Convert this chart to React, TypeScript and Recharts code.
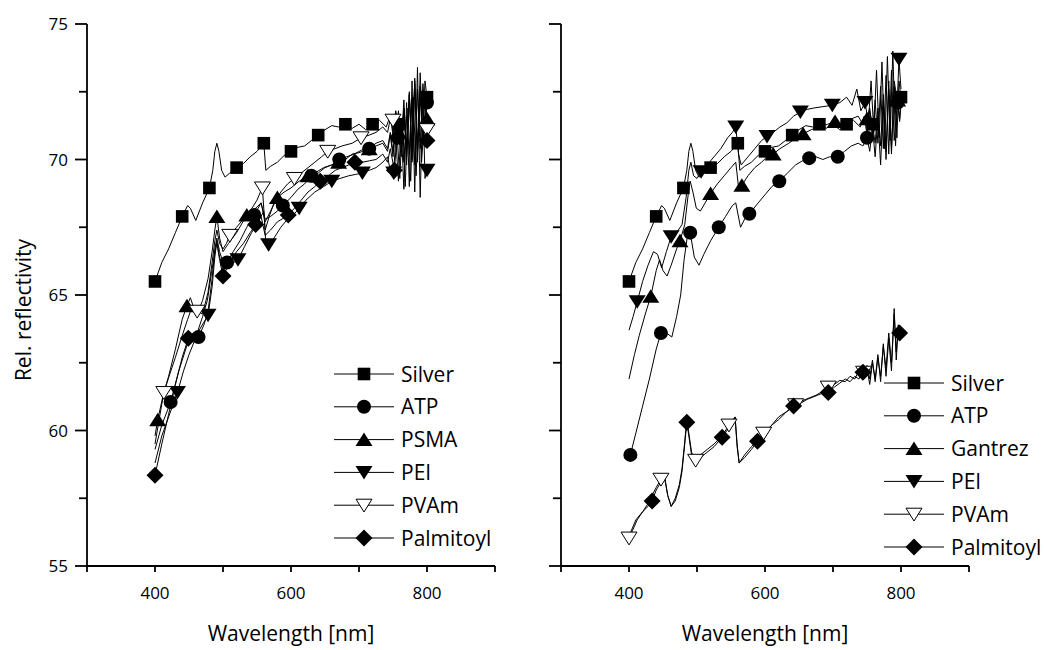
import React from 'react';
import { ComposedChart, Line, Scatter, XAxis, YAxis, Legend, Label } from 'recharts';

type Pt = [number, number];
type Kind = 'square' | 'circle' | 'up' | 'down' | 'downOpen' | 'diamond';

// axes
const xTicks = [300, 400, 500, 600, 700, 800, 900];
const xLabels = [400, 600, 800];
const yTicks = [55, 57.5, 60, 62.5, 65, 67.5, 70, 72.5, 75];
const yLabels = [55, 60, 65, 70, 75];

// Silver reference, same curve in both panels
const silver: Pt[] = [[400,65.5],[410,66.2],[420,66.7],[430,67.3],[440,67.9],[448,68.3],[452,68.2],[460,67.75],[470,68.4],[480,68.95],[485,69.6],[488,70.3],[491,70.6],[494,70.3],[498,69.6],[503,69.35],[510,69.5],[520,69.7],[530,69.85],[540,70.1],[550,70.3],[560,70.6],[563,69.6],[570,69.75],[580,69.9],[590,70.15],[600,70.3],[610,70.45],[620,70.5],[630,70.7],[640,70.9],[650,71.1],[660,71.25],[670,71.2],[680,71.3],[690,71.15],[700,71.3],[710,71.1],[720,71.3],[730,71.45],[740,71.2],[746,71.6],[750,70.9],[754,71.8],[758,71.3],[762,70.6],[766,71.9],[770,70.5],[774,72.4],[778,70.3],[782,72.9],[786,70.2],[790,72.7],[794,70.8],[797,72.9],[800,72.3]];
const silverMarks = [400, 440, 480, 520, 560, 600, 640, 680, 720, 758, 800];

// left panel
const atpL: Pt[] = [[400,59.3],[410,60.2],[423,61.05],[435,62.2],[449,63.3],[456,63.6],[464,63.45],[472,63.9],[478,64.4],[484,65.6],[488,66.7],[491,67.1],[495,66.6],[500,66.2],[506,66.2],[515,66.6],[525,67.0],[535,67.5],[546,67.95],[556,68.4],[562,67.8],[570,67.9],[580,68.1],[588,68.3],[600,68.6],[610,68.9],[620,69.1],[630,69.4],[640,69.5],[650,69.7],[660,69.8],[671,70.0],[682,70.1],[693,70.2],[704,70.35],[715,70.4],[725,70.5],[735,70.6],[742,70.3],[746,70.9],[750,70.1],[754,71.2],[757,70.8],[762,71.4],[766,69.9],[770,71.6],[774,70.2],[778,72.2],[782,69.8],[786,72.6],[790,70.4],[794,72.8],[798,71.5],[800,72.1]];
const atpLMarks = [423, 464, 506, 546, 588, 630, 671, 715, 757, 800];

const psmaL: Pt[] = [[400,59.8],[404,60.4],[412,61.3],[420,62.0],[430,63.0],[440,64.1],[447,64.6],[452,64.9],[456,64.6],[462,64.3],[470,64.8],[478,65.6],[484,66.6],[488,67.4],[491,67.9],[495,67.1],[500,66.6],[508,66.9],[520,67.3],[535,67.95],[548,68.2],[556,68.4],[562,67.7],[570,68.1],[580,68.6],[590,68.8],[600,68.95],[612,69.2],[625,69.4],[635,69.5],[648,69.7],[660,69.8],[670,69.9],[680,70.0],[690,70.2],[700,70.25],[715,70.4],[725,70.6],[735,70.7],[742,70.4],[746,71.0],[750,70.3],[754,71.3],[758,71.0],[762,70.1],[766,71.9],[770,69.8],[774,72.4],[778,70.0],[782,73.0],[786,69.9],[790,73.2],[794,70.6],[798,72.0],[800,71.5]];
const psmaLMarks = [404, 447, 491, 535, 580, 625, 670, 715, 758, 800];

const peiL: Pt[] = [[400,58.8],[410,59.8],[420,60.5],[433,61.4],[442,62.2],[450,62.8],[458,63.3],[465,63.7],[472,64.0],[478,64.25],[484,65.3],[488,66.4],[491,67.0],[495,66.4],[500,66.0],[510,66.1],[522,66.3],[532,66.8],[542,67.3],[552,67.7],[560,68.1],[563,66.9],[567,66.85],[575,67.1],[585,67.5],[595,67.8],[605,68.0],[612,68.2],[622,68.5],[635,68.8],[648,69.0],[660,69.2],[672,69.3],[685,69.4],[695,69.45],[705,69.5],[715,69.6],[725,69.7],[735,69.9],[742,70.1],[746,69.6],[751,69.5],[754,70.8],[758,69.2],[762,71.3],[766,68.9],[770,72.1],[774,69.0],[778,72.9],[782,68.8],[786,73.4],[790,68.6],[794,72.5],[797,69.3],[800,69.6]];
const peiLMarks = [433, 478, 522, 567, 612, 660, 705, 751, 800];

const pvamL: Pt[] = [[400,59.5],[406,60.4],[413,61.4],[422,62.1],[430,62.7],[440,63.5],[448,64.1],[455,64.6],[462,64.4],[470,64.3],[478,65.1],[484,66.2],[488,67.0],[491,67.4],[495,66.9],[500,66.7],[505,66.9],[510,67.2],[520,67.5],[530,67.8],[540,68.1],[550,68.5],[555,68.8],[558,68.95],[562,67.4],[568,67.9],[575,68.4],[585,68.8],[595,69.1],[605,69.3],[615,69.5],[625,69.7],[635,69.9],[645,70.1],[654,70.3],[665,70.4],[675,70.5],[690,70.6],[703,70.8],[715,70.9],[725,71.0],[735,71.2],[742,71.0],[746,71.5],[750,71.45],[754,70.9],[758,71.8],[762,70.4],[766,72.2],[770,70.1],[774,72.5],[778,69.9],[782,72.8],[786,70.3],[790,72.3],[794,70.6],[798,71.6],[800,71.1]];
const pvamLMarks = [413, 462, 510, 558, 605, 654, 703, 750, 800];

const palmL: Pt[] = [[400,58.35],[410,59.5],[420,60.6],[430,61.7],[440,62.7],[449,63.4],[456,63.5],[462,63.6],[470,64.2],[477,64.8],[483,65.8],[488,66.6],[491,66.9],[495,66.3],[500,65.7],[510,66.2],[520,66.6],[530,66.9],[540,67.3],[548,67.6],[556,67.9],[562,67.2],[570,67.4],[580,67.7],[590,67.85],[596,67.95],[605,68.2],[615,68.5],[625,68.8],[635,69.0],[643,69.2],[655,69.4],[665,69.6],[675,69.7],[685,69.8],[694,69.9],[705,69.9],[715,69.95],[725,70.0],[735,70.2],[742,69.9],[746,70.4],[752,69.6],[756,70.9],[760,69.3],[764,71.5],[768,69.0],[772,71.9],[776,69.2],[780,72.3],[784,69.4],[788,72.0],[792,69.9],[796,71.4],[800,70.7]];
const palmLMarks = [400, 449, 500, 548, 596, 643, 694, 752, 800];

// right panel
const atpR: Pt[] = [[402,59.1],[410,59.9],[420,60.9],[430,61.9],[440,63.0],[447,63.6],[455,63.6],[463,63.45],[470,64.2],[476,65.0],[481,66.3],[486,67.2],[490,67.3],[496,66.4],[503,66.1],[510,66.5],[520,67.0],[532,67.5],[542,67.9],[552,68.3],[557,68.4],[564,67.5],[570,67.8],[577,68.0],[590,68.4],[600,68.7],[610,69.0],[621,69.2],[633,69.5],[645,69.8],[655,69.95],[665,70.05],[675,70.1],[685,70.0],[695,70.1],[707,70.1],[717,70.3],[727,70.5],[737,70.6],[744,70.5],[750,70.8],[754,70.3],[758,71.2],[762,70.1],[766,71.6],[770,69.8],[774,72.2],[778,70.0],[782,72.6],[786,70.4],[790,72.9],[795,72.1],[798,71.4],[800,72.0]];
const atpRMarks = [402, 447, 490, 532, 577, 621, 665, 707, 750, 795];

const gantrezR: Pt[] = [[400,61.9],[408,62.8],[415,63.5],[424,64.3],[432,64.95],[440,65.9],[445,66.3],[450,65.9],[456,65.7],[462,66.1],[470,66.7],[475,67.0],[482,67.6],[487,68.7],[490,69.2],[494,68.8],[499,68.2],[505,68.1],[512,68.4],[520,68.75],[530,69.1],[540,69.4],[550,69.7],[557,69.9],[561,69.0],[566,69.05],[575,69.4],[585,69.7],[595,69.9],[603,70.1],[612,70.2],[622,70.4],[635,70.6],[646,70.8],[656,70.95],[668,71.1],[680,71.2],[692,71.3],[703,71.4],[715,71.3],[727,71.5],[737,71.6],[744,71.3],[750,71.5],[754,71.9],[758,70.9],[762,72.2],[766,70.6],[770,72.7],[774,70.4],[778,73.1],[782,70.2],[786,73.3],[790,70.7],[795,72.2],[798,71.5],[800,72.4]];
const gantrezRMarks = [432, 475, 520, 566, 612, 656, 703, 750, 795];

const peiR: Pt[] = [[400,63.7],[406,64.2],[412,64.75],[420,65.5],[428,66.1],[436,66.6],[442,66.5],[448,66.0],[455,66.6],[462,67.15],[470,67.3],[478,67.6],[484,68.6],[488,69.6],[491,69.9],[495,69.4],[500,69.3],[506,69.55],[515,69.8],[525,70.1],[535,70.4],[545,70.8],[552,71.0],[557,71.2],[561,70.2],[565,69.8],[575,70.1],[585,70.4],[595,70.7],[603,70.85],[612,71.0],[622,71.2],[632,71.35],[642,71.6],[652,71.75],[662,71.85],[672,71.9],[685,71.95],[699,72.0],[710,72.1],[720,72.3],[728,72.0],[735,72.6],[741,71.8],[747,72.1],[752,71.4],[756,72.9],[760,71.0],[764,73.3],[768,70.8],[772,73.6],[776,70.4],[780,73.8],[784,70.7],[788,74.0],[792,70.5],[797,73.7],[800,72.6]];
const peiRMarks = [412, 462, 506, 557, 603, 652, 699, 747, 797];

const pvamR: Pt[] = [[400,56.03],[405,56.3],[412,56.7],[420,57.0],[428,57.3],[434,57.6],[440,57.9],[447,58.2],[452,58.35],[457,57.6],[462,57.2],[468,57.5],[474,58.0],[478,58.6],[482,59.6],[485,60.4],[488,59.9],[492,59.2],[498,58.9],[505,59.1],[515,59.3],[525,59.5],[537,59.8],[547,60.2],[553,60.4],[556,60.5],[559,59.5],[562,58.8],[570,59.1],[580,59.4],[590,59.7],[598,59.9],[610,60.2],[620,60.5],[632,60.7],[645,60.95],[655,61.1],[665,61.2],[675,61.3],[685,61.45],[693,61.6],[702,61.7],[710,61.85],[718,61.8],[725,62.0],[732,61.9],[738,62.2],[745,62.15],[750,62.4],[754,61.9],[758,62.6],[762,61.8],[766,62.7],[770,62.0],[774,63.1],[778,62.3],[782,63.6],[786,62.5],[790,64.3],[793,62.9],[796,63.9],[800,63.4]];
const pvamRMarks = [400, 447, 498, 547, 598, 645, 693, 745];

const palmR: Pt[] = [[400,56.1],[410,56.7],[420,57.0],[428,57.2],[434,57.4],[440,57.8],[447,58.1],[452,58.3],[457,57.6],[462,57.2],[468,57.4],[474,57.9],[478,58.5],[482,59.5],[485,60.3],[488,59.8],[492,59.1],[498,58.9],[505,59.0],[515,59.2],[525,59.4],[537,59.75],[547,60.1],[553,60.35],[556,60.5],[559,59.4],[562,58.8],[570,59.0],[580,59.3],[589,59.6],[600,59.9],[610,60.2],[620,60.4],[632,60.7],[642,60.9],[652,61.0],[662,61.15],[672,61.25],[682,61.35],[693,61.4],[702,61.6],[710,61.75],[718,61.9],[725,61.8],[732,62.0],[738,61.9],[744,62.15],[750,62.3],[754,61.7],[758,62.5],[762,61.9],[766,62.8],[770,61.8],[774,63.2],[778,62.0],[782,63.4],[786,62.2],[790,64.5],[793,62.6],[796,63.8],[798,63.6],[800,63.5]];
const palmRMarks = [434, 485, 537, 589, 642, 693, 744, 798];

type Series = { name: string; kind: Kind; pts: Pt[]; marks: number[] };

const leftSeries: Series[] = [
  { name: 'Silver', kind: 'square', pts: silver, marks: silverMarks },
  { name: 'ATP', kind: 'circle', pts: atpL, marks: atpLMarks },
  { name: 'PSMA', kind: 'up', pts: psmaL, marks: psmaLMarks },
  { name: 'PEI', kind: 'down', pts: peiL, marks: peiLMarks },
  { name: 'PVAm', kind: 'downOpen', pts: pvamL, marks: pvamLMarks },
  { name: 'Palmitoyl', kind: 'diamond', pts: palmL, marks: palmLMarks },
];

const rightSeries: Series[] = [
  { name: 'Silver', kind: 'square', pts: silver, marks: silverMarks },
  { name: 'ATP', kind: 'circle', pts: atpR, marks: atpRMarks },
  { name: 'Gantrez', kind: 'up', pts: gantrezR, marks: gantrezRMarks },
  { name: 'PEI', kind: 'down', pts: peiR, marks: peiRMarks },
  { name: 'PVAm', kind: 'downOpen', pts: pvamR, marks: pvamRMarks },
  { name: 'Palmitoyl', kind: 'diamond', pts: palmR, marks: palmRMarks },
];

const FONT = '"Open Sans", "DejaVu Sans", sans-serif';
const INK = '#000';

const toRows = (pts: Pt[]) => pts.map(([x, y]) => ({ x, y }));
const markRows = (s: Series) => toRows(s.pts.filter(([x]) => s.marks.includes(x)));

function Marker({ kind, cx, cy }: { kind: Kind; cx: number; cy: number }) {
  if (cx == null || cy == null) return null;
  switch (kind) {
    case 'square':
      return <rect x={cx - 6.3} y={cy - 6.3} width={12.6} height={12.6} fill={INK} />;
    case 'circle':
      return <circle cx={cx} cy={cy} r={7} fill={INK} />;
    case 'up':
      return <polygon points={`${cx - 8.5},${cy + 6.5} ${cx + 8.5},${cy + 6.5} ${cx},${cy - 7}`} fill={INK} />;
    case 'down':
      return <polygon points={`${cx - 8.5},${cy - 6.5} ${cx + 8.5},${cy - 6.5} ${cx},${cy + 7}`} fill={INK} />;
    case 'downOpen':
      return <polygon points={`${cx - 8},${cy - 6} ${cx + 8},${cy - 6} ${cx},${cy + 6.8}`} fill="#fff" stroke={INK} strokeWidth={1} />;
    default:
      return <polygon points={`${cx},${cy - 8.5} ${cx + 8.5},${cy} ${cx},${cy + 8.5} ${cx - 8.5},${cy}`} fill={INK} />;
  }
}

const makeYTick = (axisX: number, showLabels: boolean) => (props: any) => {
  const { y, payload } = props;
  const v = payload.value;
  const major = yLabels.includes(v);
  return (
    <g>
      <line x1={axisX - (major ? 12 : 8)} x2={axisX} y1={y} y2={y} stroke={INK} strokeWidth={1.8} />
      {major && showLabels && (
        <text x={axisX - 19} y={y} dy="0.36em" textAnchor="end" fontSize={17} fontFamily={FONT} fill={INK}>
          {v}
        </text>
      )}
    </g>
  );
};

const makeXTick = (axisY: number) => (props: any) => {
  const { x, payload } = props;
  const v = payload.value;
  return (
    <g>
      <line x1={x} x2={x} y1={axisY} y2={axisY + 6} stroke={INK} strokeWidth={1.8} />
      {xLabels.includes(v) && (
        <text x={x} y={axisY + 27} dy="0.36em" textAnchor="middle" fontSize={17} fontFamily={FONT} fill={INK}>
          {v}
        </text>
      )}
    </g>
  );
};

function LegendBox({ series }: { series: Series[] }) {
  const rowH = 32.8;
  return (
    <svg width={190} height={200} style={{ overflow: 'visible', display: 'block' }}>
      {series.map((s, i) => {
        const y = 16 + i * rowH;
        return (
          <g key={s.name}>
            <line x1={4} x2={64} y1={y} y2={y} stroke={INK} strokeWidth={1} />
            <Marker kind={s.kind} cx={34} cy={y} />
            <text x={71} y={y} dy="0.36em" fontSize={21} fontFamily={FONT} fill={INK}>
              {s.name}
            </text>
          </g>
        );
      })}
    </svg>
  );
}

function Panel({ series, width, margin, yAxisWidth, showYLabels, legendPos, plotLeft }: any) {
  const axisY = 566;
  const plotRight = width - margin.right;
  const xTitleX = (plotLeft + plotRight) / 2;
  return (
    <ComposedChart width={width} height={650} margin={margin}>
      <XAxis
        type="number"
        dataKey="x"
        domain={[300, 900]}
        ticks={xTicks}
        height={80}
        tickLine={false}
        axisLine={{ stroke: INK, strokeWidth: 1.8 }}
        tick={makeXTick(axisY)}
        interval={0}
      >
        <Label
          content={() => (
            <text x={xTitleX} y={633} dy="0.36em" textAnchor="middle" fontSize={21} fontFamily={FONT} fill={INK}>
              Wavelength [nm]
            </text>
          )}
        />
      </XAxis>
      <YAxis
        type="number"
        dataKey="y"
        domain={[55, 75]}
        ticks={yTicks}
        width={yAxisWidth}
        tickLine={false}
        axisLine={{ stroke: INK, strokeWidth: 1.8 }}
        tick={makeYTick(plotLeft, showYLabels)}
        interval={0}
      >
        {showYLabels && (
          <Label
            content={() => (
              <text
                x={23}
                y={310}
                dy="0.36em"
                textAnchor="middle"
                fontSize={21}
                fontFamily={FONT}
                fill={INK}
                transform="rotate(-90 23 310)"
              >
                Rel. reflectivity
              </text>
            )}
          />
        )}
      </YAxis>
      {series.map((s: Series) => (
        <Line
          key={`line-${s.name}`}
          data={toRows(s.pts)}
          dataKey="y"
          type="linear"
          stroke={INK}
          strokeWidth={1}
          dot={false}
          activeDot={false}
          isAnimationActive={false}
        />
      ))}
      {series.map((s: Series) => (
        <Scatter
          key={`mark-${s.name}`}
          data={markRows(s)}
          dataKey="y"
          isAnimationActive={false}
          shape={(p: any) => <Marker kind={s.kind} cx={p.cx} cy={p.cy} />}
        />
      ))}
      <Legend
        layout="vertical"
        align="center"
        verticalAlign="middle"
        content={() => <LegendBox series={series} />}
        wrapperStyle={{ left: legendPos.left, top: legendPos.top, width: 190, height: 200 }}
      />
    </ComposedChart>
  );
}

export default function App() {
  return (
    <div style={{ position: 'absolute', left: 0, top: 0, width: 1044, height: 650, background: '#fff', fontFamily: FONT }}>
      <div style={{ position: 'absolute', left: 0, top: 0 }}>
        <Panel
          series={leftSeries}
          width={520}
          margin={{ top: 24, right: 25, bottom: 4, left: 27 }}
          yAxisWidth={60}
          plotLeft={87}
          showYLabels
          legendPos={{ left: 330, top: 358 }}
        />
      </div>
      <div style={{ position: 'absolute', left: 520, top: 0 }}>
        <Panel
          series={rightSeries}
          width={524}
          margin={{ top: 24, right: 75, bottom: 4, left: 11 }}
          yAxisWidth={30}
          plotLeft={41}
          showYLabels={false}
          legendPos={{ left: 360, top: 367 }}
        />
      </div>
    </div>
  );
}
